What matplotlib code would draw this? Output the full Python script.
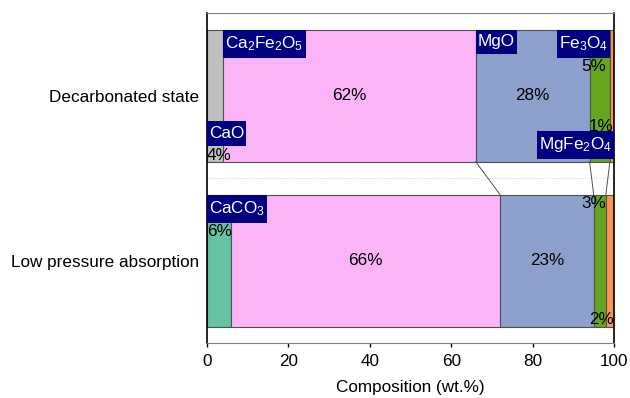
import matplotlib
matplotlib.use("Agg")
import matplotlib.pyplot as plt
import numpy as np
from matplotlib.path import Path

plt.rcParams["font.family"] = ["Liberation Sans", "DejaVu Sans"]
plt.rcParams["mathtext.default"] = "regular"
FS = 12.3
plt.rcParams["font.size"] = FS

# data (wt.%)
categories = ["Low pressure absorption", "Decarbonated state"]
decarb_phases = ["CaO", "Ca$_2$Fe$_2$O$_5$", "MgO", "Fe$_3$O$_4$", "MgFe$_2$O$_4$"]
decarb_values = [4, 62, 28, 5, 1]
lowp_phases = ["CaCO$_3$", "Ca$_2$Fe$_2$O$_5$", "MgO", "Fe$_3$O$_4$", "MgFe$_2$O$_4$"]
lowp_values = [6, 66, 23, 3, 2]

decarb_colors = ["#bfbfbf", "#fcb4f8", "#8da0cb", "#66a61e", "#fc9454"]
lowp_colors = ["#66c2a5", "#fcb4f8", "#8da0cb", "#66a61e", "#fc9454"]

fig = plt.figure(figsize=(6.3, 3.98), dpi=100)
ax = fig.add_axes([0.3286, 0.138, 0.646, 0.829])

bar_h = 0.8
edge = "#505050"

rows = [(0, lowp_values, lowp_colors), (1, decarb_values, decarb_colors)]
for y, vals, cols in rows:
    left = 0
    for v, c in zip(vals, cols):
        ax.barh(y, v, left=left, height=bar_h, color=c, edgecolor=edge, linewidth=0.8)
        left += v

# connector lines between matching boundaries
top_edges = np.cumsum(decarb_values)
bot_edges = np.cumsum(lowp_values)
for i in range(1, 4):
    ax.plot([top_edges[i], bot_edges[i]], [1 - bar_h / 2, bar_h / 2],
            color="#505050", lw=0.7, zorder=3)

ax.axhline(0.5, color="#c8c8c8", lw=0.6, ls=":", zorder=0)

# label boxes: less padding left/right than top/bottom
PX, PY = 0.12, 0.27


def tall_box(x0, y0, width, height, mutation_size):
    px, py = PX * mutation_size, PY * mutation_size
    x0, y0 = x0 - px, y0 - py
    x1, y1 = x0 + width + 2 * px, y0 + height + 2 * py
    return Path([(x0, y0), (x1, y0), (x1, y1), (x0, y1), (x0, y0)], closed=True)


box = dict(boxstyle=tall_box, fc="#000080", ec="none")
PADX = PX * FS
PADY = PY * FS


def tag(text, x, y, ha, va, dx=0, dy=0):
    ax.annotate(text, (x, y), xytext=(dx, dy), textcoords="offset points",
                ha=ha, va=va, color="white", bbox=box, zorder=5)


def pct(text, x, y, ha, va, dx=0, dy=0):
    ax.annotate(text, (x, y), xytext=(dx, dy), textcoords="offset points",
                ha=ha, va=va, color="black", zorder=4)


# decarbonated state (y=1)
t_top = 1 + bar_h / 2
t_bot = 1 - bar_h / 2
ts = np.concatenate([[0], top_edges])
tag(decarb_phases[1], ts[1], t_top, "left", "top", PADX, -PADY)
tag(decarb_phases[2], ts[2], t_top, "left", "top", PADX, -PADY)
tag(decarb_phases[3], ts[4], t_top, "right", "top", -PADX, -PADY)
tag(decarb_phases[0], 0, t_bot, "left", "bottom", PADX, PADY + 11.5)
tag(decarb_phases[4], 100, t_bot, "right", "bottom", -PADX, PADY + 1.9)
pct(f"{decarb_values[0]}%", 0, t_bot, "left", "bottom", 0, -1)
pct(f"{decarb_values[1]}%", (ts[1] + ts[2]) / 2, 1, "center", "center")
pct(f"{decarb_values[2]}%", (ts[2] + ts[3]) / 2, 1, "center", "center")
pct(f"{decarb_values[3]}%", ts[4], t_top, "right", "top", -3, -21.5)
pct(f"{decarb_values[4]}%", 100, t_bot, "right", "bottom", 0, 20)

# low pressure absorption (y=0)
b_top = bar_h / 2
b_bot = -bar_h / 2
bs = np.concatenate([[0], bot_edges])
tag(lowp_phases[0], 0, b_top, "left", "top", PADX, -PADY)
pct(f"{lowp_values[0]}%", 0, b_top, "left", "top", 0, -21.5)
pct(f"{lowp_values[1]}%", (bs[1] + bs[2]) / 2, 0, "center", "center")
pct(f"{lowp_values[2]}%", (bs[2] + bs[3]) / 2, 0, "center", "center")
pct(f"{lowp_values[3]}%", bs[4], b_top, "right", "top", 0, -1)
pct(f"{lowp_values[4]}%", 100, b_bot, "right", "bottom", 0, 0)

ax.set_xlim(0, 100)
ax.set_ylim(-0.5, 1.5)
ax.set_yticks([0, 1])
ax.set_yticklabels(categories)
ax.tick_params(axis="y", length=0, pad=6)
ax.set_xticks(np.arange(0, 101, 20))
ax.tick_params(axis="x", direction="out", length=3, width=1, pad=5)
ax.set_xlabel("Composition (wt.%)", labelpad=8)

for s in ["top", "bottom"]:
    ax.spines[s].set_color("#808080")
for s in ["left", "right"]:
    ax.spines[s].set_color("black")
    ax.spines[s].set_linewidth(1.2)

fig.savefig("out.png", dpi=100)
